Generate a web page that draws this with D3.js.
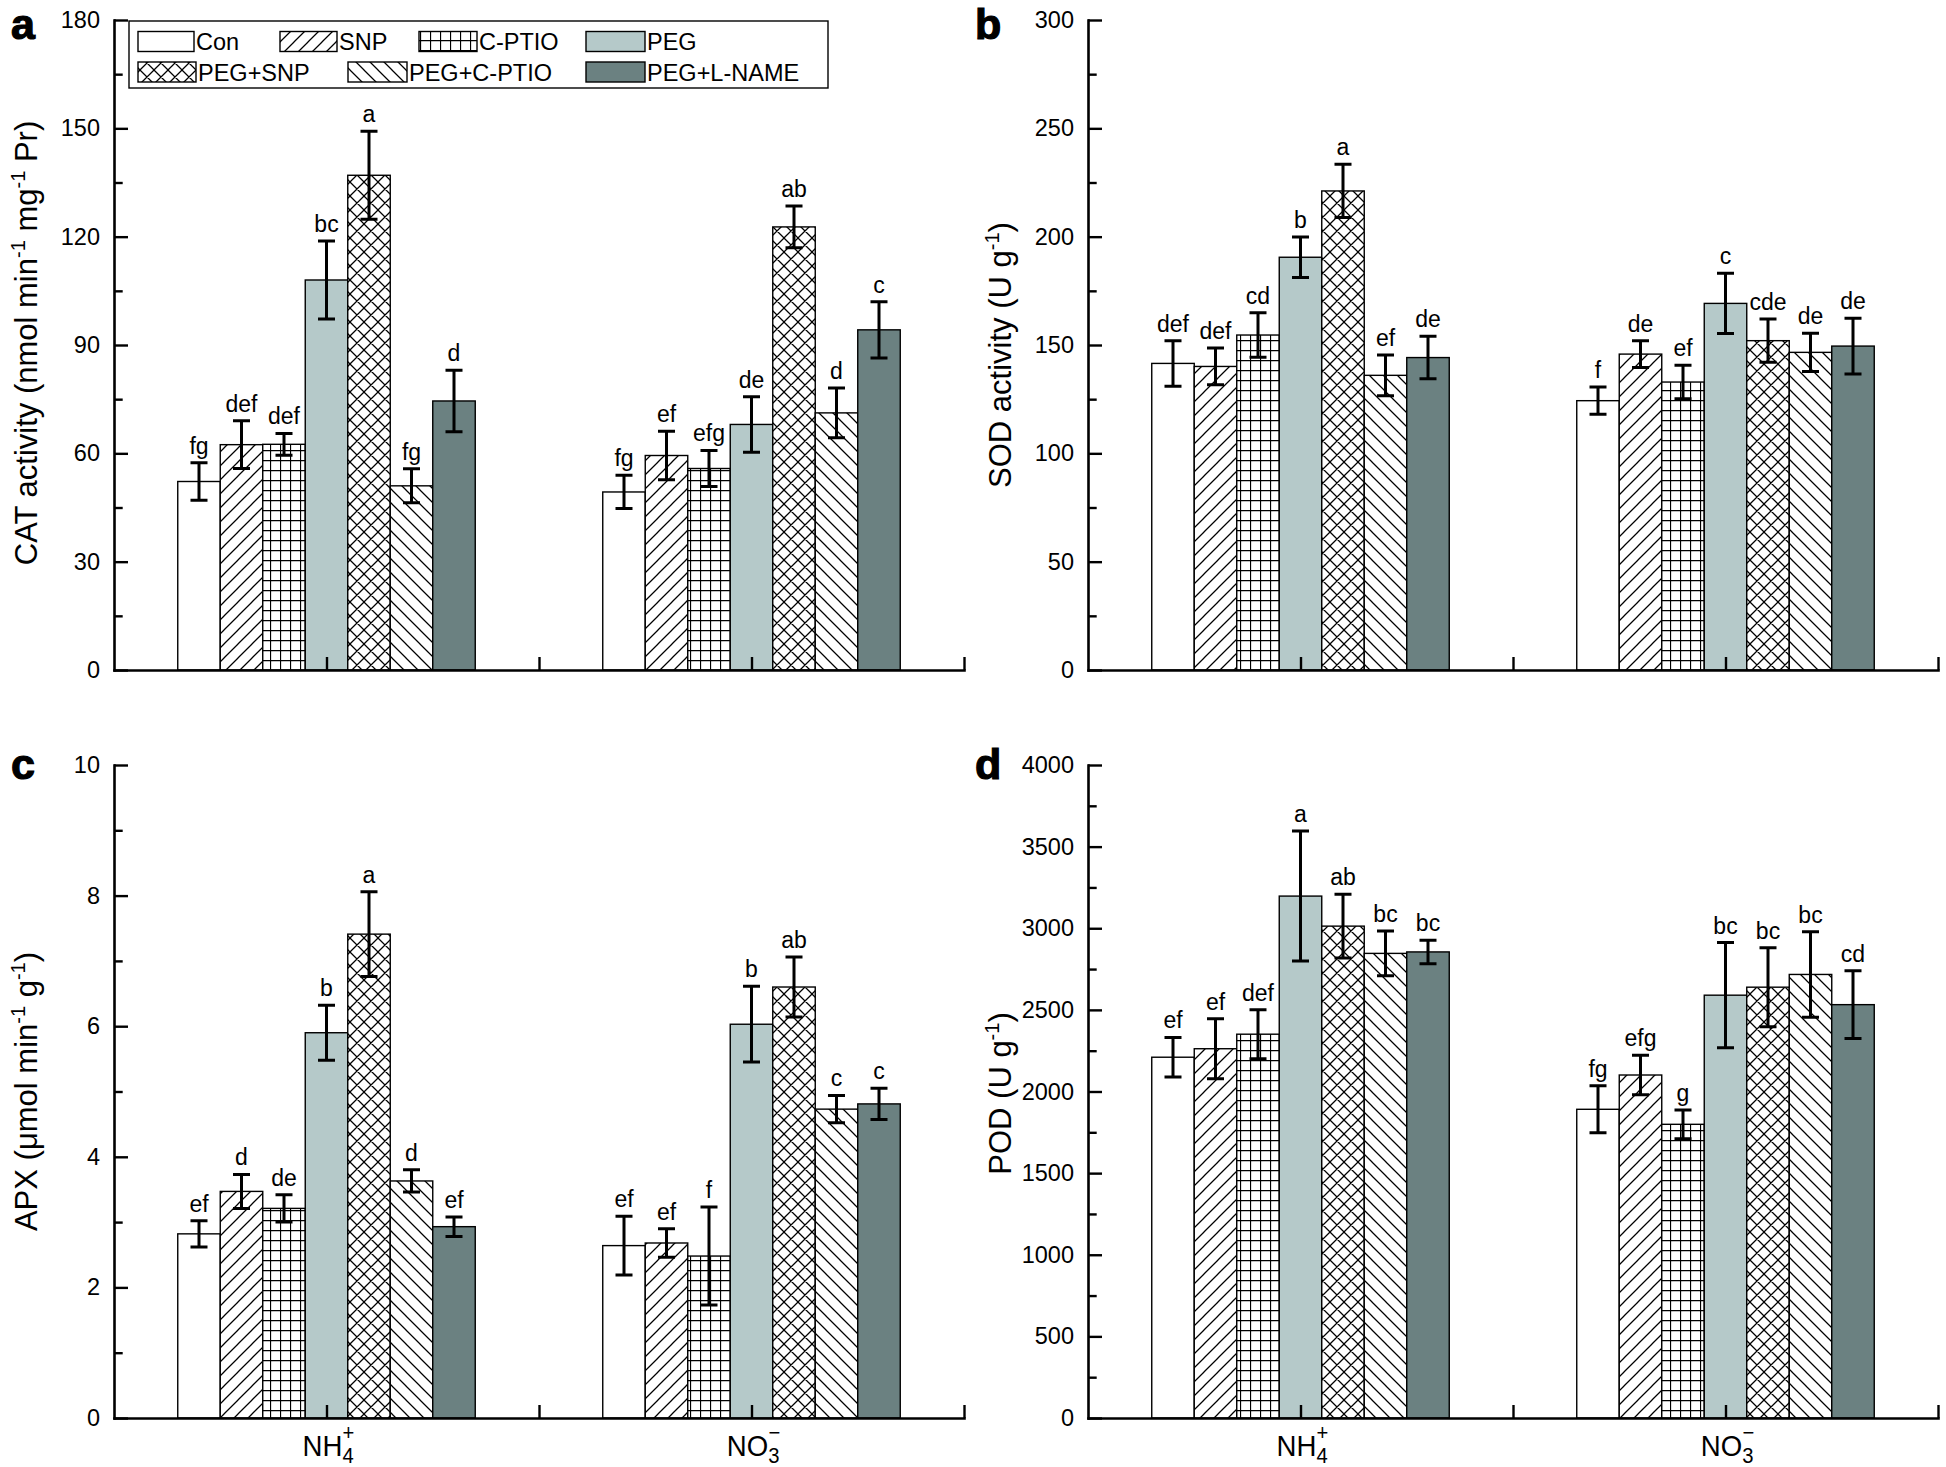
<!DOCTYPE html>
<html><head><meta charset="utf-8">
<script src="https://cdn.jsdelivr.net/npm/d3@7"></script>
<style>
body{margin:0;background:#fff}
text{font-family:"Liberation Sans",Arial,Helvetica,sans-serif;fill:#000}
</style>
</head><body>
<svg id="chart" width="1946" height="1467"></svg>
<script>
// ---------------- data ----------------
const treatments = ["Con","SNP","C-PTIO","PEG","PEG+SNP","PEG+C-PTIO","PEG+L-NAME"];
const nitrogenForms = ["NH4","NO3"];

// a: CAT activity
const catNH4    = [52.2, 62.4, 62.5, 108.0, 137.0, 51.0, 74.5];
const catNO3    = [49.3, 59.4, 55.8, 68.0, 122.7, 71.2, 94.2];
const catErrNH4 = [5.2, 6.6, 3.0, 10.8, 12.2, 4.7, 8.5];
const catErrNO3 = [4.6, 6.7, 5.0, 7.7, 5.8, 6.9, 7.8];
const catLetNH4 = ["fg","def","def","bc","a","fg","d"];
const catLetNO3 = ["fg","ef","efg","de","ab","d","c"];

// b: SOD activity
const sodNH4    = [141.5, 140.1, 154.6, 190.5, 221.1, 136.0, 144.2];
const sodNO3    = [124.3, 145.8, 132.9, 169.2, 152.0, 146.6, 149.5];
const sodErrNH4 = [10.5, 8.5, 10.3, 9.4, 12.3, 9.4, 9.8];
const sodErrNO3 = [6.3, 6.2, 7.7, 13.9, 10.0, 8.8, 12.9];
const sodLetNH4 = ["def","def","cd","b","a","ef","de"];
const sodLetNO3 = ["f","de","ef","c","cde","de","de"];

// c: APX
const apxNH4    = [2.82, 3.47, 3.21, 5.90, 7.41, 3.63, 2.93];
const apxNO3    = [2.64, 2.68, 2.48, 6.03, 6.60, 4.73, 4.81];
const apxErrNH4 = [0.20, 0.26, 0.21, 0.42, 0.65, 0.17, 0.15];
const apxErrNO3 = [0.45, 0.22, 0.75, 0.58, 0.46, 0.21, 0.24];
const apxLetNH4 = ["ef","d","de","b","a","d","ef"];
const apxLetNO3 = ["ef","ef","f","b","ab","c","c"];

// d: POD
const podNH4    = [2210, 2262, 2351, 3197, 3013, 2846, 2855];
const podNO3    = [1891, 2101, 1799, 2590, 2639, 2717, 2532];
const podErrNH4 = [121, 184, 150, 398, 196, 137, 72];
const podErrNO3 = [144, 121, 88, 322, 242, 262, 207];
const podLetNH4 = ["ef","ef","def","a","ab","bc","bc"];
const podLetNO3 = ["fg","efg","g","bc","bc","bc","cd"];

// axis ticks
const catTicks = [0,30,60,90,120,150,180];
const sodTicks = [0,50,100,150,200,250,300];
const apxTicks = [0,2,4,6,8,10];
const podTicks = [0,500,1000,1500,2000,2500,3000,3500,4000];

// ---------------- drawing ----------------
const svg = d3.select("#chart");
svg.append("rect").attr("width",1946).attr("height",1467).attr("fill","#fff");

const defs = svg.append("defs");
function pattern(id, w, h, d) {
  const p = defs.append("pattern").attr("id", id).attr("patternUnits","userSpaceOnUse")
    .attr("width", w).attr("height", h);
  p.append("rect").attr("width", w).attr("height", h).attr("fill", "#fff");
  p.append("path").attr("d", d).attr("stroke", "#000").attr("stroke-width", 1.25).attr("fill","none");
}
pattern("pSNP", 14, 14, "M0,14 L14,0 M-3.5,3.5 L3.5,-3.5 M10.5,17.5 L17.5,10.5");
pattern("pCPTIO", 10, 10, "M0,0.5 H10 M0.5,0 V10");
pattern("pPEGSNP", 14, 14, "M0,14 L14,0 M-3.5,3.5 L3.5,-3.5 M10.5,17.5 L17.5,10.5 M0,0 L14,14 M-3.5,10.5 L3.5,17.5 M10.5,-3.5 L17.5,3.5");
pattern("pPEGCPTIO", 14, 14, "M0,0 L14,14 M-3.5,10.5 L3.5,17.5 M10.5,-3.5 L17.5,3.5");

const fills = ["#ffffff","url(#pSNP)","url(#pCPTIO)","#b5c9c9","url(#pPEGSNP)","url(#pPEGCPTIO)","#6b8181"];

const AXW = 850;

function rich(sel, parts, supSize) {
  parts.forEach(p => {
    const t = sel.append("tspan").text(p[0]);
    if (p[1] === "sup") t.attr("font-size", supSize).attr("dy", -supSize*0.62);
    else if (p[1] === "back") t.attr("dy", supSize*0.62);
  });
}

const panels = [
  {id:"a", left:114, top:20, bottom:670, max:180, ticks:catTicks, minorStep:15, letterX:11, letterY:39,
   vals:[catNH4,catNO3], errs:[catErrNH4,catErrNO3], lets:[catLetNH4,catLetNO3], titleShift:-2,
   title:[["CAT activity (nmol min"],["-1","sup"],[" mg","back"],["-1","sup"],[" Pr)","back"]], xlabels:false, legend:true},
  {id:"b", left:1088, top:20, bottom:670, max:300, ticks:sodTicks, minorStep:25, letterX:975, letterY:39,
   vals:[sodNH4,sodNO3], errs:[sodErrNH4,sodErrNO3], lets:[sodLetNH4,sodLetNO3], titleShift:10,
   title:[["SOD activity (U g"],["-1","sup"],[")","back"]], xlabels:false},
  {id:"c", left:114, top:765, bottom:1418, max:10, ticks:apxTicks, minorStep:1, letterX:11, letterY:779,
   vals:[apxNH4,apxNO3], errs:[apxErrNH4,apxErrNO3], lets:[apxLetNH4,apxLetNO3], titleShift:0,
   title:[["APX (\u03bcmol min"],["-1","sup"],[" g","back"],["-1","sup"],[")","back"]], xlabels:true},
  {id:"d", left:1088, top:765, bottom:1418, max:4000, ticks:podTicks, minorStep:250, letterX:975, letterY:779,
   vals:[podNH4,podNO3], errs:[podErrNH4,podErrNO3], lets:[podLetNH4,podLetNO3], titleShift:2,
   title:[["POD (U g"],["-1","sup"],[")","back"]], xlabels:true}
];

panels.forEach(cfg => {
  const g = svg.append("g");
  const x0 = d3.scaleBand().domain(nitrogenForms).range([cfg.left, cfg.left + AXW])
    .paddingInner(0.3).paddingOuter(0.15);
  const x1 = d3.scaleBand().domain(treatments).range([0, x0.bandwidth()]);
  const xl = d3.scaleLinear().domain([0, 2]).range([cfg.left, cfg.left + AXW]);
  const y = d3.scaleLinear().domain([0, cfg.max]).range([cfg.bottom, cfg.top]);

  const rows = [];
  nitrogenForms.forEach((n, gi) => treatments.forEach((t, i) => rows.push({
    n, t, i, v: cfg.vals[gi][i], e: cfg.errs[gi][i], l: cfg.lets[gi][i]
  })));

  const bars = g.append("g");
  bars.selectAll("rect").data(rows).join("rect")
    .attr("x", d => x0(d.n) + x1(d.t))
    .attr("y", d => y(d.v))
    .attr("width", x1.bandwidth())
    .attr("height", d => y(0) - y(d.v))
    .attr("fill", d => fills[d.i])
    .attr("stroke", "#000").attr("stroke-width", 1.4);

  const cx = d => x0(d.n) + x1(d.t) + x1.bandwidth() / 2;
  const eb = g.append("g").attr("stroke", "#000").attr("stroke-width", 3).attr("fill", "none");
  eb.selectAll("path").data(rows).join("path")
    .attr("d", d => {
      const c = cx(d), t = y(d.v + d.e), b = y(d.v - d.e);
      return `M${c},${t}V${b}M${c - 8.5},${t}H${c + 8.5}M${c - 8.5},${b}H${c + 8.5}`;
    });

  g.append("g").selectAll("text").data(rows).join("text")
    .attr("x", cx).attr("y", d => y(d.v + d.e) - 9)
    .attr("text-anchor", "middle").attr("font-size", 23)
    .text(d => d.l);

  // y axis
  const minor = d3.range(cfg.minorStep, cfg.max, cfg.minorStep * 2);
  const ya = g.append("g").attr("transform", `translate(${cfg.left},0)`)
    .call(d3.axisLeft(y).tickValues(cfg.ticks).tickSizeInner(-14).tickSizeOuter(0)
      .tickPadding(14).tickFormat(d3.format("d")));
  ya.select(".domain").attr("stroke-width", 2.6).attr("stroke-linecap", "square");
  ya.selectAll(".tick line").attr("stroke-width", 2.4);
  ya.selectAll(".tick text").attr("font-size", 23.5).attr("font-family", null);
  const ym = g.append("g").attr("transform", `translate(${cfg.left},0)`)
    .call(d3.axisLeft(y).tickValues(minor).tickSizeInner(-8.7).tickSizeOuter(0).tickFormat(""));
  ym.select(".domain").remove();
  ym.selectAll(".tick line").attr("stroke-width", 2.4);

  // x axis
  const xa = g.append("g").attr("transform", `translate(0,${cfg.bottom})`)
    .call(d3.axisBottom(xl).tickValues([0.5, 1, 1.5, 2]).tickSizeInner(-13).tickSizeOuter(0).tickFormat(""));
  xa.select(".domain").attr("stroke-width", 2.6).attr("stroke-linecap", "square");
  xa.selectAll(".tick line").attr("stroke-width", 2.4);

  // x labels with sub/superscripts
  if (cfg.xlabels) {
    const lab = [
      {n: "NH4", main: "NH", sub: "4", sup: "+"},
      {n: "NO3", main: "NO", sub: "3", sup: "\u2212"}
    ];
    lab.forEach(L => {
      const t = g.append("text")
        .attr("transform", `translate(${x0(L.n) + x0.bandwidth() / 2 + 2},${cfg.bottom + 38}) scale(0.92,1)`)
        .attr("text-anchor", "middle").attr("font-size", 30);
      t.append("tspan").text(L.main);
      t.append("tspan").attr("font-size", 22).attr("dy", 7).text(L.sub);
      t.append("tspan").attr("font-size", 22).attr("dx", -12).attr("dy", -23).text(L.sup);
    });
  }

  // y title
  const titleX = cfg.left - 77;
  const tt = g.append("text")
    .attr("transform", `translate(${titleX},${(cfg.top + cfg.bottom) / 2 + cfg.titleShift}) rotate(-90)`)
    .attr("text-anchor", "middle").attr("font-size", 31);
  rich(tt, cfg.title, 20);

  // panel letter
  g.append("text").attr("x", cfg.letterX).attr("y", cfg.letterY)
    .attr("font-size", 43).attr("font-weight", "bold").attr("stroke", "#000").attr("stroke-width", 1.2)
    .text(cfg.id);

  // legend
  if (cfg.legend) {
    const lg = g.append("g");
    lg.append("rect").attr("x", 129).attr("y", 21).attr("width", 699).attr("height", 67)
      .attr("fill", "#fff").attr("stroke", "#000").attr("stroke-width", 1.4);
    const legendPos = [
      {x: 138, w: 56, r: 0}, {x: 280, w: 57, r: 0}, {x: 419, w: 58, r: 0}, {x: 586, w: 59, r: 0},
      {x: 138, w: 58, r: 1}, {x: 348, w: 59, r: 1}, {x: 586, w: 59, r: 1}
    ];
    const rowY = [41.5, 72];
    treatments.forEach((t, i) => {
      const p = legendPos[i];
      lg.append("rect").attr("x", p.x).attr("y", rowY[p.r] - 10).attr("width", p.w).attr("height", 20)
        .attr("fill", fills[i]).attr("stroke", "#000").attr("stroke-width", 1.4);
      lg.append("text").attr("x", p.x + p.w + 2).attr("y", rowY[p.r] + 8.5)
        .attr("font-size", 23.5).text(t);
    });
  }
});
</script>
</body></html>
